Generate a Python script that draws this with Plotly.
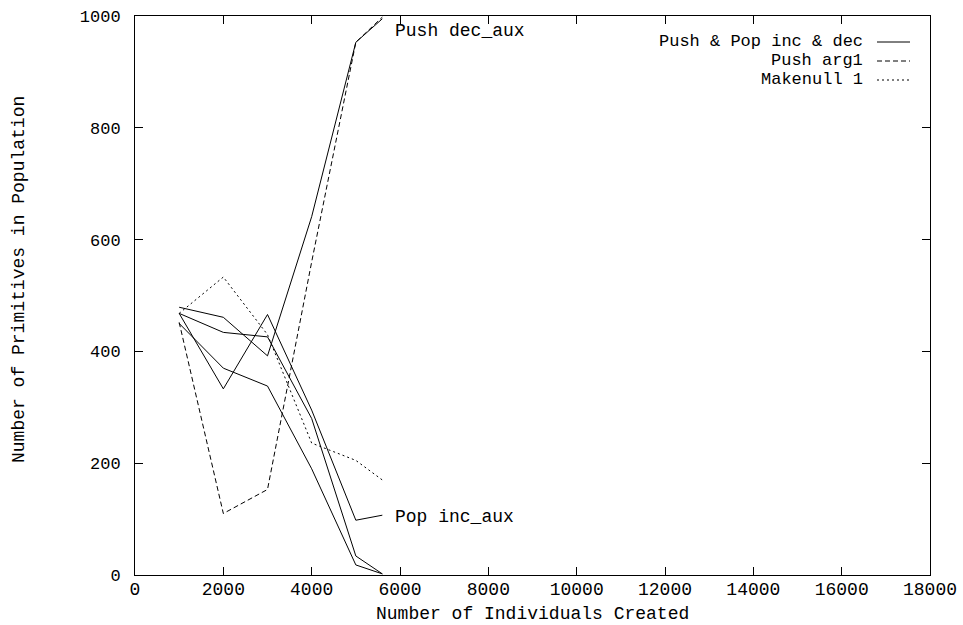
import plotly.graph_objects as go

# ---- data ----
x_created = [1000, 2000, 3000, 4000, 5000, 5600]

push_dec_aux = [479, 461, 392, 641, 953, 995]
push_inc_aux = [468, 434, 426, 280, 34, 2]
pop_inc_aux = [468, 333, 466, 295, 98, 107]
pop_dec_aux = [450, 370, 338, 190, 18, 2]
push_arg1 = [452, 110, 153, 560, 953, 998]
makenull_1 = [468, 533, 430, 236, 205, 170]

x_ticks = [0, 2000, 4000, 6000, 8000, 10000, 12000, 14000, 16000, 18000]
y_ticks = [0, 200, 400, 600, 800, 1000]

legend_names = ["Push & Pop inc & dec", "Push arg1", "Makenull 1"]
legend_dash = ["solid", "5px,3px", "2px,3px"]

labels = ["Push dec_aux", "Pop inc_aux"]
label_x = [5840, 5840]
label_y = [973, 104]

FONT = "Liberation Mono"

fig = go.Figure()
for ys in [push_dec_aux, push_inc_aux, pop_inc_aux, pop_dec_aux]:
    fig.add_trace(go.Scatter(x=x_created, y=ys, mode="lines",
                             line=dict(color="black", width=1, dash=legend_dash[0]),
                             showlegend=False, hoverinfo="skip"))
fig.add_trace(go.Scatter(x=x_created, y=push_arg1, mode="lines",
                         line=dict(color="black", width=1, dash=legend_dash[1]),
                         showlegend=False))
fig.add_trace(go.Scatter(x=x_created, y=makenull_1, mode="lines",
                         line=dict(color="black", width=1, dash=legend_dash[2]),
                         showlegend=False))

L, R, T, B = 135, 33, 16, 50
W, H = 963, 625
pw, ph = W - L - R, H - T - B

def px2paper(px, py):
    return (px - L) / pw, (H - B - py) / ph

annotations = []
shapes = []
row_y = [42, 61, 80]
for name, dash, ry in zip(legend_names, legend_dash, row_y):
    tx, ty = px2paper(865, ry)
    annotations.append(dict(x=tx, y=ty, xref="paper", yref="paper", text=name,
                            showarrow=False, xanchor="right", yanchor="middle",
                            font=dict(family=FONT, size=17, color="black")))
    x0, y0 = px2paper(877, ry)
    x1, _ = px2paper(910, ry)
    shapes.append(dict(type="line", xref="paper", yref="paper", x0=x0, x1=x1, y0=y0, y1=y0,
                       line=dict(color="black", width=1, dash=dash)))

for t, lx, ly in zip(labels, label_x, label_y):
    annotations.append(dict(x=lx, y=ly, xref="x", yref="y", text=t, showarrow=False,
                            xanchor="left", yanchor="middle",
                            font=dict(family=FONT, size=18, color="black")))

# axis titles
tx, ty = px2paper(532, 614)
annotations.append(dict(x=tx, y=ty, xref="paper", yref="paper",
                        text="Number of Individuals Created", showarrow=False,
                        xanchor="center", yanchor="middle",
                        font=dict(family=FONT, size=18, color="black")))
tx, ty = px2paper(19, 280)
annotations.append(dict(x=tx, y=ty, xref="paper", yref="paper",
                        text="Number of Primitives in Population", showarrow=False,
                        textangle=-90, xanchor="center", yanchor="middle",
                        font=dict(family=FONT, size=18, color="black")))

axis_common = dict(showline=True, linecolor="black", linewidth=1, mirror="allticks",
                   ticks="inside", ticklen=8, tickcolor="black", tickwidth=1,
                   showgrid=False, zeroline=False, automargin=False)

fig.update_layout(
    width=W, height=H,
    margin=dict(l=L, r=R, t=T, b=B, autoexpand=False),
    paper_bgcolor="white", plot_bgcolor="white",
    xaxis=dict(range=[0, 18000], tickvals=x_ticks, ticktext=[str(v) for v in x_ticks],
               ticklabelstandoff=-3, tickfont=dict(family=FONT, size=18, color="black"),
               **axis_common),
    yaxis=dict(range=[0, 1000], tickvals=y_ticks, ticktext=[str(v) for v in y_ticks],
               ticklabelstandoff=10, tickfont=dict(family=FONT, size=17, color="black"),
               **axis_common),
    annotations=annotations, shapes=shapes,
    showlegend=False,
)

fig.write_html("out.html")
